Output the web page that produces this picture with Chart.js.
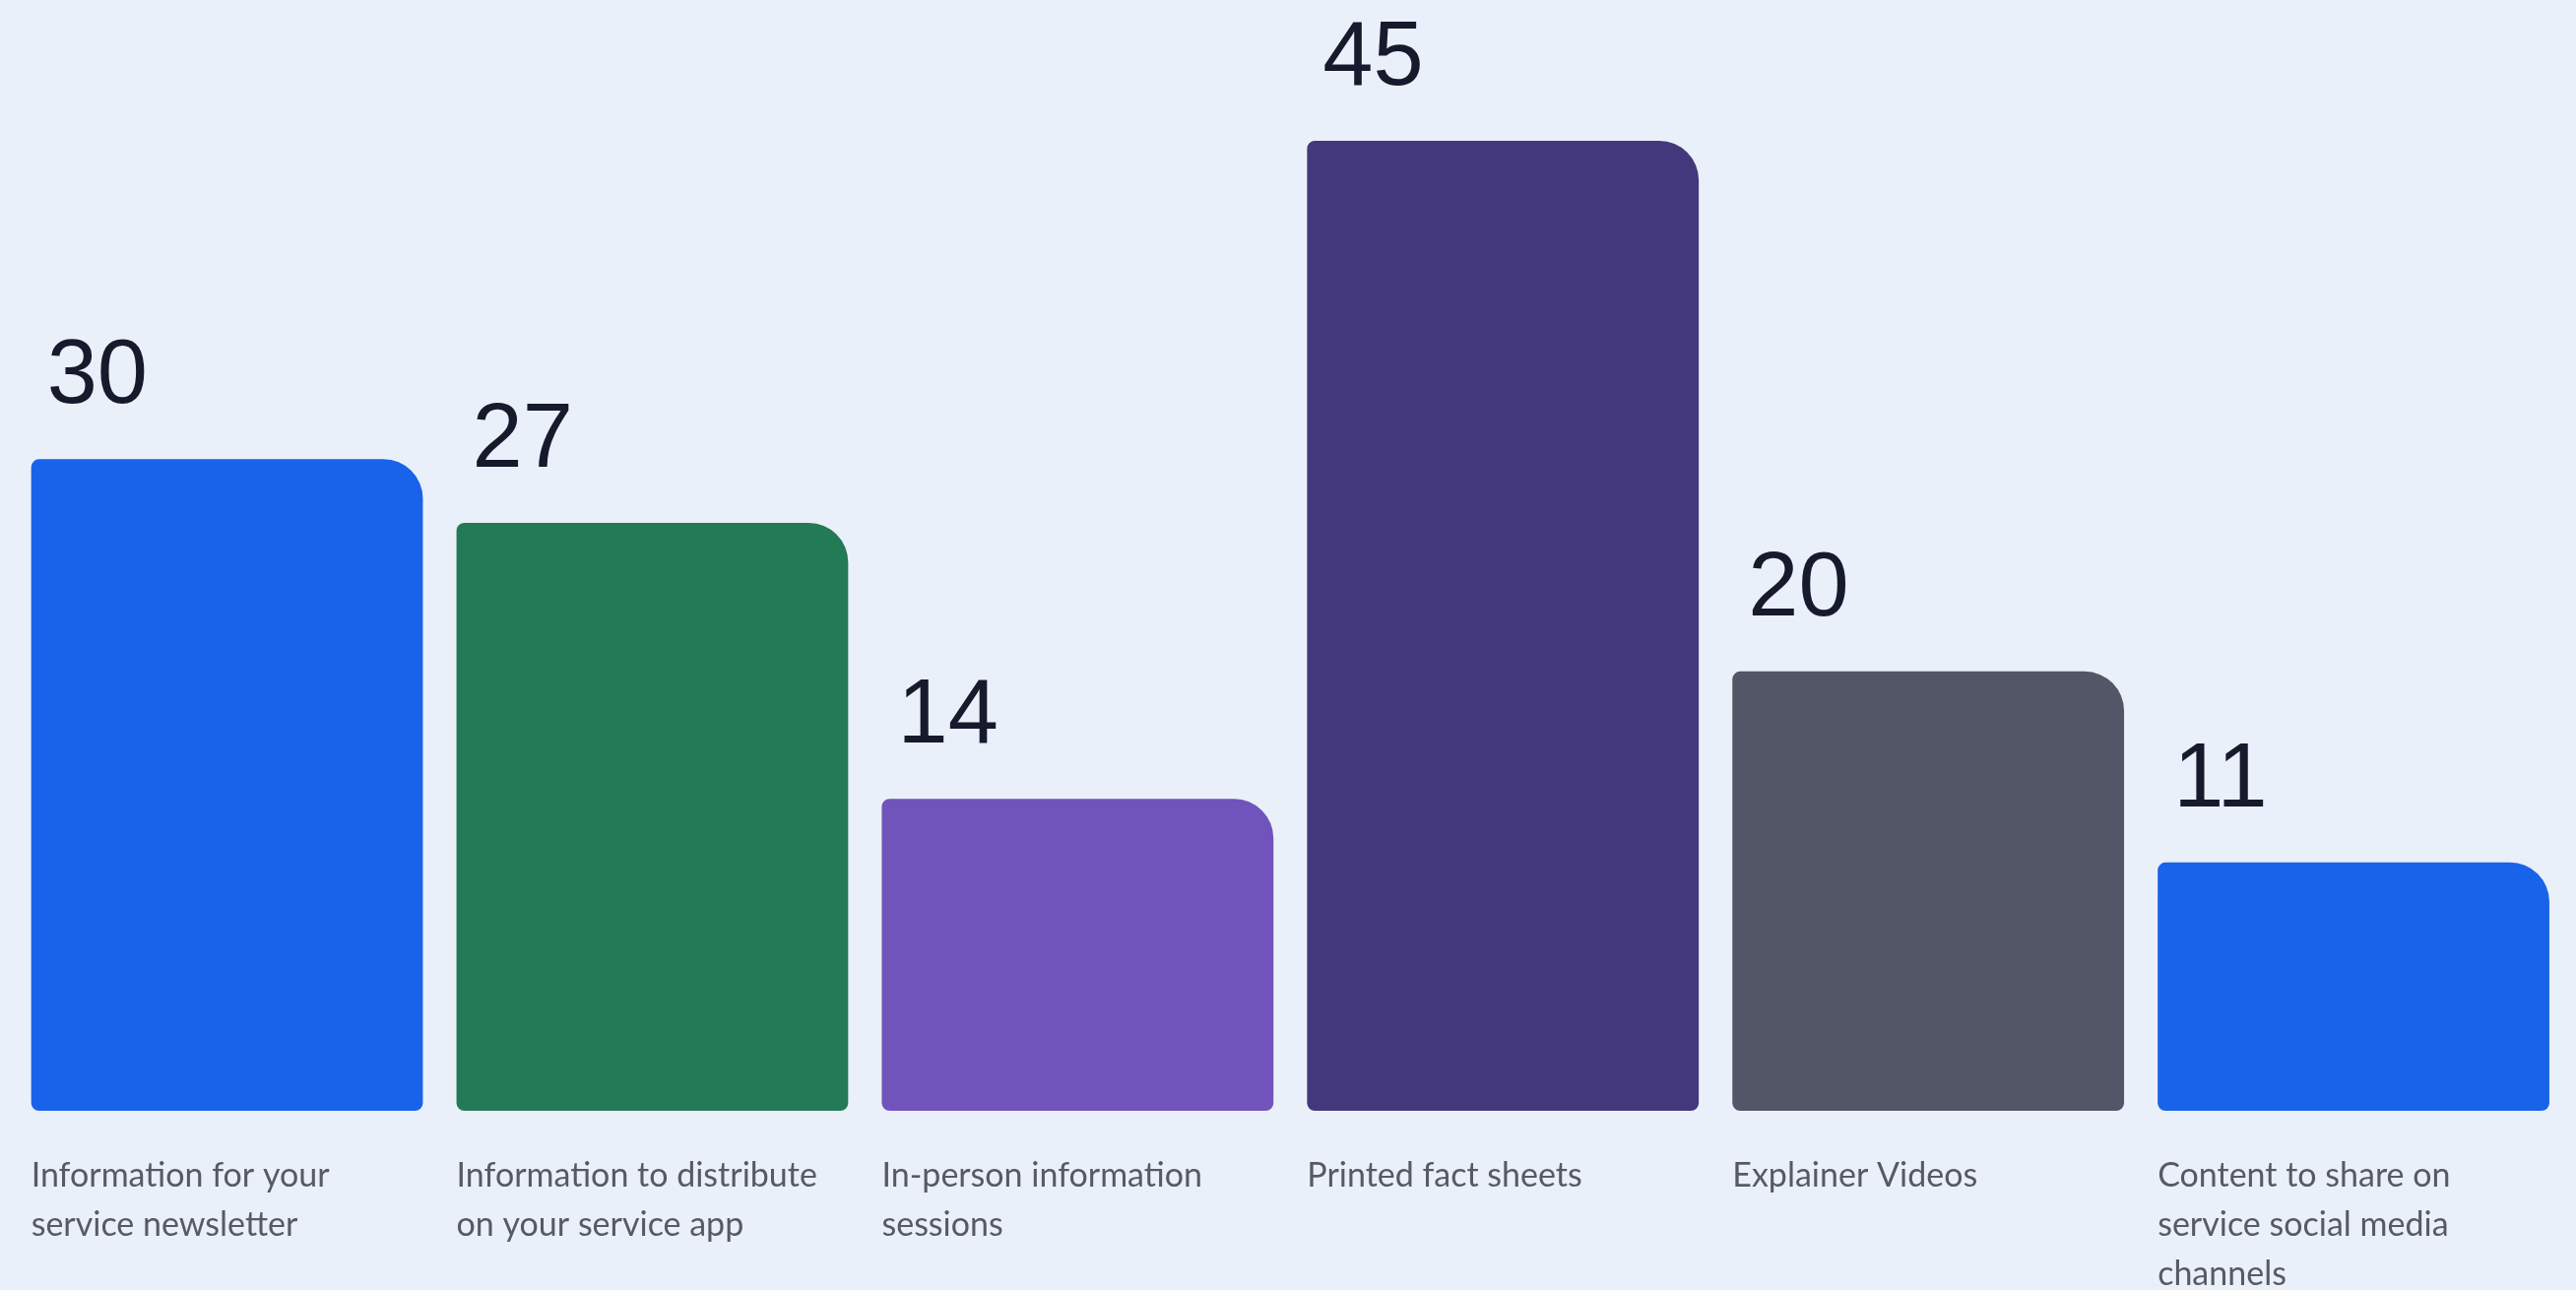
<!DOCTYPE html>
<html>
<head>
<meta charset="utf-8">
<script src="https://cdn.jsdelivr.net/npm/chart.js@4"></script>
<style>
  html, body { margin: 0; padding: 0; background: #eaf0f9; }
  #wrap { width: 2616px; height: 1310px; position: relative; }
</style>
</head>
<body>
<div id="wrap"><canvas id="chart"></canvas></div>
<script>
const categories = [
  ["Information for your", "service newsletter"],
  ["Information to distribute", "on your service app"],
  ["In-person information", "sessions"],
  ["Printed fact sheets"],
  ["Explainer Videos"],
  ["Content to share on", "service social media", "channels"],
];
const values = [30, 27, 14, 45, 20, 11];
const barColors = ["#1963eb", "#237a56", "#7054bc", "#43387b", "#525667", "#1963eb"];

const yMin = -0.7;

const labelsPlugin = {
  id: "labels",
  afterDatasetsDraw: (chart) => {
    const ctx = chart.ctx;
    const meta = chart.getDatasetMeta(0);
    ctx.save();
    meta.data.forEach((bar, i) => {
      const left = bar.x - bar.width / 2;
      // value above the bar
      ctx.fillStyle = "#161a2c";
      ctx.font = "92px 'Liberation Sans', Arial, sans-serif";
      ctx.textAlign = "left";
      ctx.textBaseline = "alphabetic";
      ctx.fillText(String(values[i]), left + 16, bar.y - 57);
      // category text below
      ctx.fillStyle = "#575a65";
      ctx.font = "34px Lato, 'Noto Sans', sans-serif";
      categories[i].forEach((line, j) => {
        ctx.fillText(line, left, 1205 + j * 50);
      });
    });
    ctx.restore();
  },
};

const config = {
  type: "bar",
  data: {
    labels: categories.map((c) => c.join(" ")),
    datasets: [
      {
        data: values,
        base: yMin,
        backgroundColor: barColors,
        barPercentage: 0.921,
        categoryPercentage: 1,
        borderSkipped: false,
        borderRadius: { topLeft: 8, topRight: 40, bottomLeft: 8, bottomRight: 8 },
      },
    ],
  },
  options: {
    responsive: true,
    maintainAspectRatio: false,
    animation: false,
    layout: {
      padding: { top: 143, left: 14.6, right: 10, bottom: 182 },
    },
    scales: {
      x: { display: false },
      y: { display: false, min: yMin, max: 45 },
    },
    plugins: {
      legend: { display: false },
      tooltip: { enabled: false },
    },
  },
  plugins: [labelsPlugin],
};

new Chart(document.getElementById("chart"), config);
</script>
</body>
</html>
